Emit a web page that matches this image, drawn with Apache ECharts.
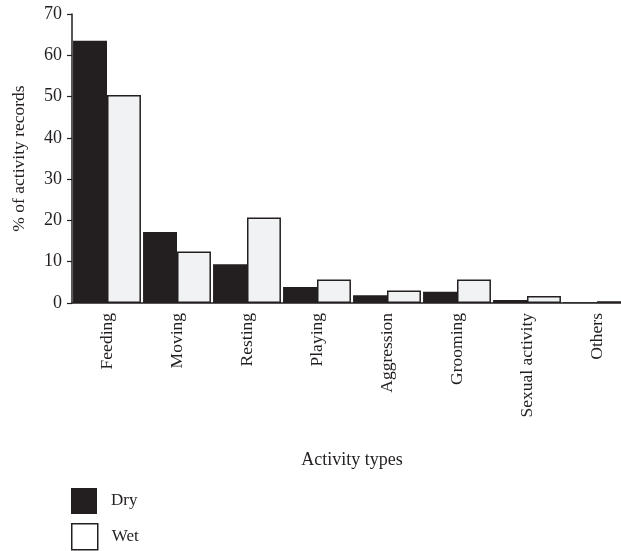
<!DOCTYPE html>
<html>
<head>
<meta charset="utf-8">
<script src="https://cdn.jsdelivr.net/npm/echarts@6/dist/echarts.min.js"></script>
<style>
  html, body { margin: 0; padding: 0; background: #fff; overflow: hidden; }
  #chart { width: 632px; height: 551px; }
</style>
</head>
<body>
<div id="chart"></div>
<script>
  var categories = ['Feeding', 'Moving', 'Resting', 'Playing', 'Aggression', 'Grooming', 'Sexual activity', 'Others'];
  var dryValues = [63.5, 17.2, 9.4, 3.9, 1.9, 2.7, 0.7, 0.2];
  var wetValues = [50.4, 12.5, 20.7, 5.7, 3.0, 5.7, 1.7, 0.4];
  var yTicks = { min: 0, max: 70, interval: 10 };

  var ink = '#231f20';
  var serif = '"Liberation Serif", "DejaVu Serif", serif';

  function legendFor(name, top, style) {
    return {
      orient: 'vertical',
      left: 71,
      top: top,
      padding: 0,
      itemWidth: 26,
      itemHeight: 26,
      icon: 'rect',
      textStyle: { fontFamily: serif, fontSize: 17, color: ink, padding: [0, 0, 0, 9] },
      data: [{ name: name, itemStyle: style }]
    };
  }

  var chart = echarts.init(document.getElementById('chart'));
  var option = {
    backgroundColor: '#fff',
    animation: false,
    textStyle: { fontFamily: serif, color: ink },
    grid: { left: 72, top: 14, right: 0, bottom: 248 },
    legend: [
      legendFor('Dry', 488, { color: ink, borderWidth: 0 }),
      legendFor('Wet', 523, { color: '#fff', borderColor: ink, borderWidth: 1.5 })
    ],
    xAxis: {
      type: 'category',
      data: categories,
      name: 'Activity types',
      nameLocation: 'middle',
      nameGap: 148,
      nameTextStyle: { fontFamily: serif, fontSize: 18, color: ink },
      axisLine: { lineStyle: { color: ink, width: 1.5 } },
      axisTick: { show: false },
      axisLabel: { rotate: 90, fontFamily: serif, fontSize: 17.5, color: ink, margin: 10, interval: 0 }
    },
    yAxis: {
      type: 'value',
      min: yTicks.min,
      max: yTicks.max,
      interval: yTicks.interval,
      name: '% of activity records',
      nameLocation: 'middle',
      nameGap: 44,
      nameTextStyle: { fontFamily: serif, fontSize: 17.5, color: ink },
      axisLine: { show: true, lineStyle: { color: ink, width: 1.5 } },
      axisTick: { show: true, length: 5, lineStyle: { color: ink, width: 1.2 } },
      axisLabel: { fontFamily: serif, fontSize: 18, color: ink, margin: 10 },
      splitLine: { show: false }
    },
    series: [
      {
        name: 'Dry',
        type: 'bar',
        data: dryValues,
        barGap: '0%',
        barCategoryGap: '3%',
        itemStyle: { color: ink }
      },
      {
        name: 'Wet',
        type: 'bar',
        data: wetValues,
        itemStyle: { color: '#f1f2f4', borderColor: ink, borderWidth: 1.5 }
      }
    ]
  };
  chart.setOption(option);
</script>
</body>
</html>
